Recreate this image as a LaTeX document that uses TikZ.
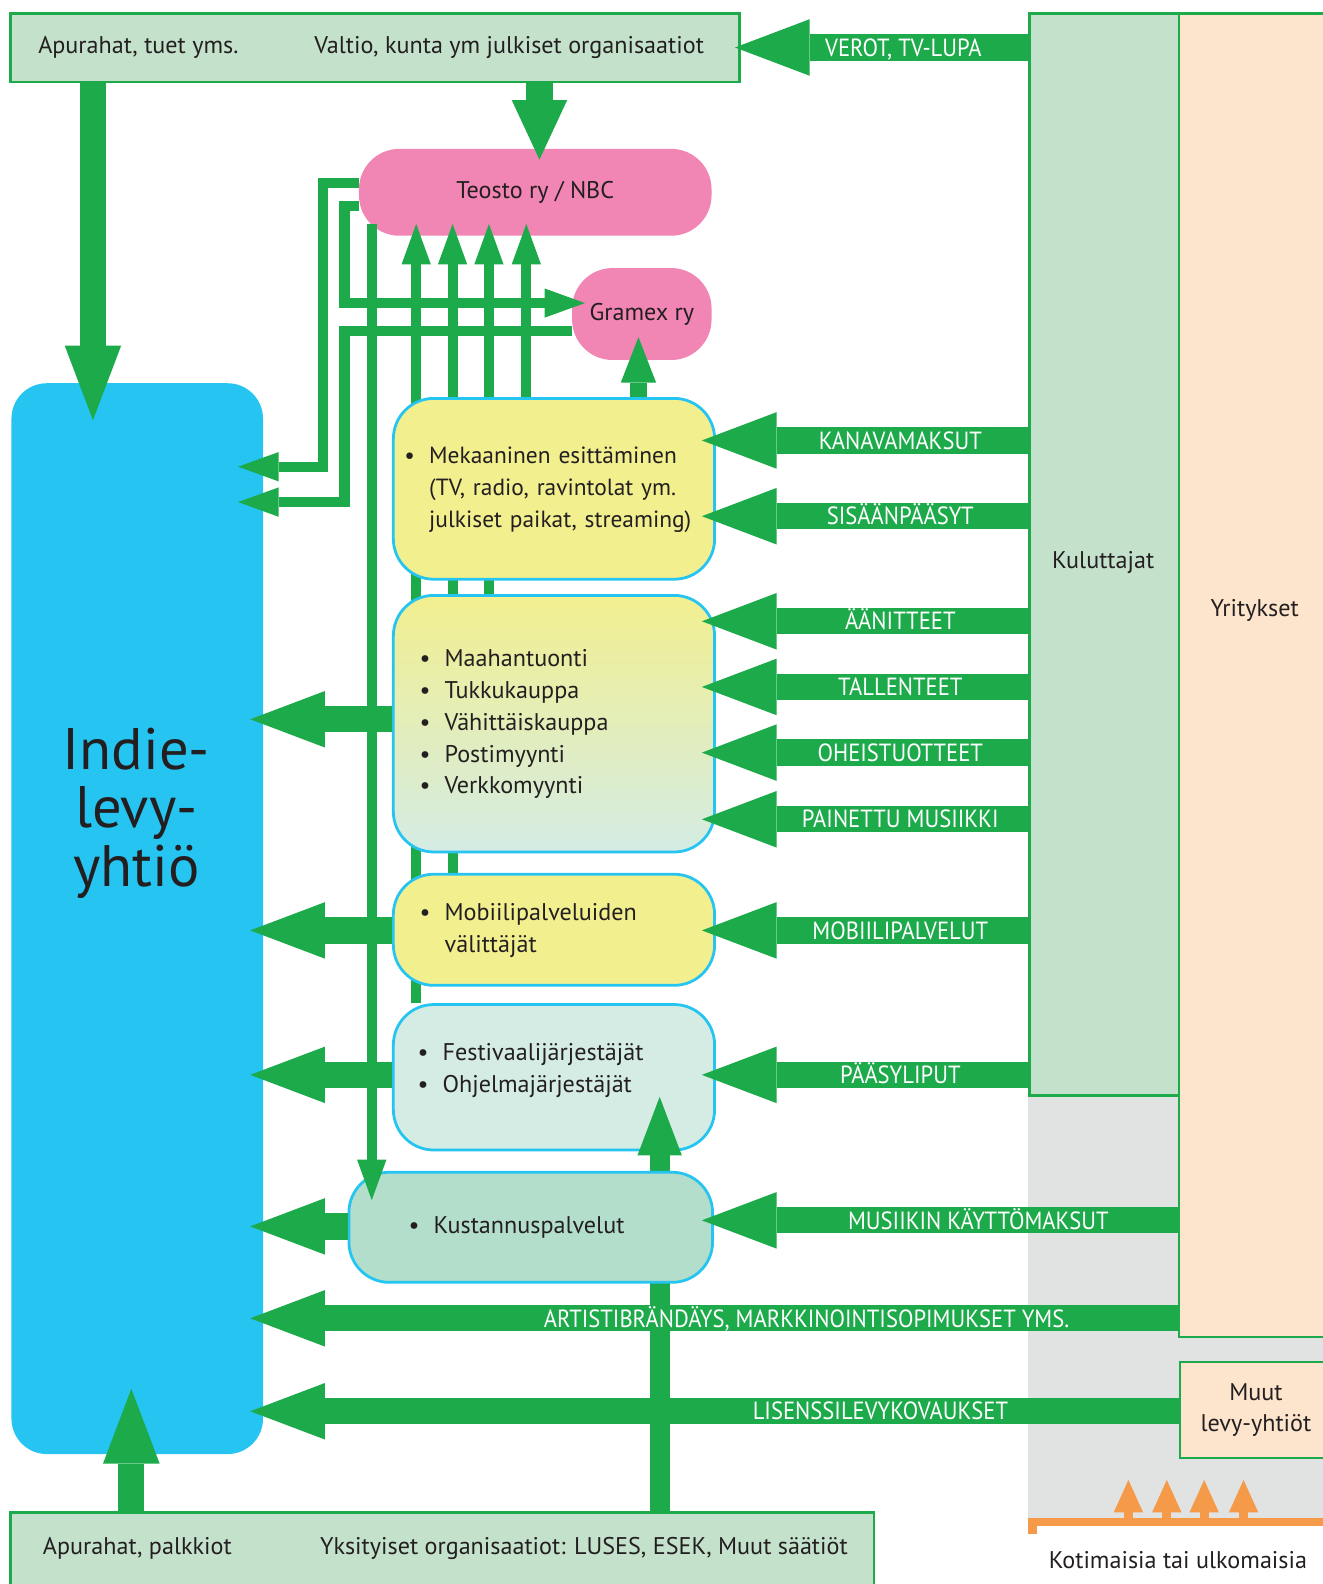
\documentclass[tikz,border=0pt]{standalone}
\usepackage{fontspec}
\setmainfont{PT Sans}
\newfontfamily\lblfont[FakeStretch=0.91]{PT Sans}
\usetikzlibrary{calc,positioning,arrows.meta}
\usepackage{xcolor}
\definecolor{mygreen}{RGB}{29,170,74}
\definecolor{mylightgreen}{RGB}{196,226,203}
\definecolor{mypeach}{RGB}{253,228,204}
\definecolor{mycyan}{RGB}{38,196,241}
\definecolor{mypink}{RGB}{241,133,180}
\definecolor{myyellow}{RGB}{242,239,143}
\definecolor{mymint}{RGB}{212,236,228}
\definecolor{mysea}{RGB}{178,222,203}
\definecolor{mygray}{RGB}{225,227,226}
\definecolor{myorange}{RGB}{245,154,72}
\definecolor{mytext}{RGB}{35,31,32}
\newcommand{\ux}{0.02cm}
\pgfdeclarelayer{back}
\pgfdeclarelayer{mid}
\pgfsetlayers{back,mid,main}
\tikzset{
  txt/.style={text=mytext, font=\fontsize{13.6}{18}\selectfont, inner sep=0pt},
  panel/.style={draw=mygreen, line width=0.05cm, fill=mylightgreen, anchor=north west, inner sep=0pt},
  pill/.style={fill=mypink, rounded corners=0.8cm, anchor=north west, txt},
  card/.style={draw=mycyan, line width=0.055cm, rounded corners=0.8cm, anchor=north west, align=left, txt},
  lbl/.style={text=white, font=\lblfont\fontsize{14}{14}\selectfont, text height=9.8pt, text depth=0pt, inner sep=0pt},
  bigarr/.style={draw=mygreen, line width=0.52cm, -{Triangle[length=1.48cm, width=1.12cm, line width=0pt]}},
  midarr/.style={draw=mygreen, line width=0.32cm, -{Triangle[length=0.9cm, width=0.7cm, line width=0pt]}},
  fatarr/.style={draw=mygreen, line width=0.4cm, -{Triangle[length=1.16cm, width=0.88cm, line width=0pt]}},
  thinarr/.style={draw=mygreen, line width=0.2cm, -{Triangle[length=0.8cm, width=0.58cm, line width=0pt]}},
  orarr/.style={draw=myorange, line width=0.18cm, -{Triangle[length=0.64cm, width=0.58cm, line width=0pt]}}
}

\begin{document}
\begin{tikzpicture}[x=0.02cm, y=-0.02cm]
  \useasboundingbox (0,0) rectangle (1309,1568);
  \begin{pgfonlayer}{back}
    % payers
    \fill[mygray] (1018,1083) rectangle (1320,1507);
    \node[panel, minimum width=722*\ux, minimum height=68*\ux] (valtio) at (9,12) {};
    \node[txt] (apuA) at (137,47) {Apurahat, tuet yms.};
    \node[txt] (valtiolbl) at (504,47) {Valtio, kunta ym julkiset organisaatiot};
    \node[panel, minimum width=148*\ux, minimum height=1071*\ux] (kul) at (1018,12) {};
    \node[panel, fill=mypeach, minimum width=160*\ux, minimum height=1310*\ux] (yrit) at (1166,12) {};
    \node[txt] (kullbl) at (1092,557) {Kuluttajat};
    \node[txt] (yritlbl) at (1242,604) {Yritykset};
    \node[panel, fill=mypeach, minimum width=150*\ux, minimum height=95*\ux, align=center, txt] (muut) at (1167,1347) {Muut\\levy-yhtiöt};
    \node[panel, minimum width=855*\ux, minimum height=100*\ux] (yksit) at (9,1496) {};
    \node[txt] (apuB) at (136,1533) {Apurahat, palkkiot};
    \node[txt] (yksitlbl) at (578,1533) {Yksityiset organisaatiot: LUSES, ESEK, Muut säätiöt};
    % origin
    \draw[myorange, line width=0.16cm] (1018,1507) -- (1320,1507);
    \fill[myorange] (1018,1503) rectangle (1027,1518);
    \draw[orarr] (1117,1505) -- (1117,1465);
    \draw[orarr] (1155,1505) -- (1155,1465);
    \draw[orarr] (1192,1505) -- (1192,1465);
    \draw[orarr] (1231,1505) -- (1231,1465);
    \node[txt] (kotilbl) at (1166,1544) {Kotimaisia tai ulkomaisia};
    % label
    \node[fill=mycyan, rounded corners=0.7cm, anchor=north west, minimum width=249*\ux, minimum height=1060*\ux] (indie) at (11,379) {};
    \node[text=mytext, font=\fontsize{33}{33}\selectfont, align=center] (indielbl) at (135,805) {Indie-\\levy-\\yhtiö};
    % collecting societies
    \node[pill, minimum width=349*\ux, minimum height=86*\ux] (teosto) at (355,147) {Teosto ry / NBC};
    \node[pill, minimum width=138*\ux, minimum height=91*\ux] (gramex) at (566,265) {Gramex ry};
  \end{pgfonlayer}

  % channels
  \node[card, fill=myyellow, minimum width=318*\ux, minimum height=179*\ux, text width=296*\ux, font=\fontsize{13.2}{18}\selectfont] (mek) at (388,393)
    {\begin{tabular}{@{}l@{\hspace{0.28cm}}l@{}}\textbullet & Mekaaninen esittäminen\\ & (TV, radio, ravintolat ym.\\ & julkiset paikat, streaming)\end{tabular}};
  \node[card, top color=myyellow, bottom color=mymint, minimum width=318*\ux, minimum height=254*\ux, text width=266*\ux] (sales) at (388,588)
    {\begin{tabular}{@{}l@{\hspace{0.28cm}}l@{}}\textbullet & Maahantuonti\\ \textbullet & Tukkukauppa\\ \textbullet & Vähittäiskauppa\\ \textbullet & Postimyynti\\ \textbullet & Verkkomyynti\end{tabular}};
  \node[card, fill=myyellow, minimum width=318*\ux, minimum height=110*\ux, text width=266*\ux] (mob) at (388,864)
    {\begin{tabular}{@{}l@{\hspace{0.28cm}}l@{}}\textbullet & Mobiilipalveluiden\\ & välittäjät\end{tabular}};
  \node[card, fill=mymint, minimum width=318*\ux, minimum height=144*\ux, text width=270*\ux] (fest) at (388,993)
    {\begin{tabular}{@{}l@{\hspace{0.28cm}}l@{}}\textbullet & Festivaalijärjestäjät\\ \textbullet & Ohjelmajärjestäjät\\[0.3cm]\end{tabular}};
  \draw[fatarr, shorten >=-1.08cm] (yksit.north -| 653,0) -- (fest.south -| 653,0);
  \node[card, fill=mysea, minimum width=360*\ux, minimum height=109*\ux, text width=242*\ux] (kust) at (344,1159)
    {\begin{tabular}{@{}l@{\hspace{0.28cm}}l@{}}\textbullet & Kustannuspalvelut\end{tabular}};

  % royalties
  \begin{pgfonlayer}{mid}
    \draw[thinarr, shorten >=-0.24cm] (mek.north -| 521,0) -- (teosto.south -| 521,0);
    \draw[thinarr, shorten >=-0.24cm] (sales.north -| 484,0) -- (teosto.south -| 484,0);
    \draw[thinarr, shorten >=-0.24cm] (mob.north -| 448,0) -- (teosto.south -| 448,0);
    \draw[thinarr, shorten >=-0.24cm] (fest.north -| 412,0) -- (teosto.south -| 412,0);
    \draw[thinarr, shorten >=-0.26cm] (teosto.west |- 0,204) -- (341,204) -- (341,300) -- (gramex.west |- 0,300);
    \draw[thinarr, shorten >=-0.5cm] (teosto.west |- 0,181) -- (320,181) -- (320,462) -- (indie.east |- 0,462);
    \draw[thinarr, shorten >=-0.5cm] (gramex.west |- 0,328) -- (341,328) -- (341,497) -- (indie.east |- 0,497);
  \end{pgfonlayer}
  \draw[thinarr, shorten <=-0.24cm, shorten >=-0.58cm] (teosto.south -| 368,0) -- (kust.north -| 368,0);
  \draw[midarr, shorten >=-0.46cm] (mek.north -| 632,0) -- (gramex.south -| 632,0);

  % funding
  \draw[bigarr, -{Triangle[length=1.18cm, width=1.1cm, line width=0pt]}, shorten >=-0.22cm] (valtio.south -| 534,0) -- (teosto.north -| 534,0);
  \draw[bigarr, shorten >=-0.74cm] (valtio.south -| 92,0) -- (indie.north -| 92,0);
  \draw[bigarr, shorten >=-1.3cm] (yksit.north -| 130,0) -- (indie.south -| 130,0);

  % money from consumers and companies
  \draw[bigarr, shorten >=-0.12cm] (kul.west |- 0,47) -- (valtio.east |- 0,47) node[lbl, pos=0.435] {VEROT, TV-LUPA};
  \draw[bigarr, shorten >=-0.28cm] (kul.west |- 0,436) -- (mek.east |- 0,436) node[lbl, pos=0.41] {KANAVAMAKSUT};
  \draw[bigarr, shorten >=-0.28cm] (kul.west |- 0,511) -- (mek.east |- 0,511) node[lbl, pos=0.41] {SISÄÄNPÄÄSYT};
  \draw[bigarr, shorten >=-0.28cm] (kul.west |- 0,615) -- (sales.east |- 0,615) node[lbl, pos=0.41] {ÄÄNITTEET};
  \draw[bigarr, shorten >=-0.28cm] (kul.west |- 0,680) -- (sales.east |- 0,680) node[lbl, pos=0.41] {TALLENTEET};
  \draw[bigarr, shorten >=-0.28cm] (kul.west |- 0,745) -- (sales.east |- 0,745) node[lbl, pos=0.41] {OHEISTUOTTEET};
  \draw[bigarr, shorten >=-0.28cm] (kul.west |- 0,811) -- (sales.east |- 0,811) node[lbl, pos=0.41] {PAINETTU MUSIIKKI};
  \draw[bigarr, shorten >=-0.28cm] (kul.west |- 0,921) -- (mob.east |- 0,921) node[lbl, pos=0.41] {MOBIILIPALVELUT};
  \draw[bigarr, shorten >=-0.28cm] (kul.west |- 0,1064) -- (fest.east |- 0,1064) node[lbl, pos=0.41] {PÄÄSYLIPUT};
  \draw[bigarr, shorten >=-0.24cm] (yrit.west |- 0,1208) -- (kust.east |- 0,1208) node[lbl, pos=0.43] {MUSIIKIN KÄYTTÖMAKSUT};
  \draw[bigarr, shorten >=-0.26cm] (yrit.west |- 0,1305) -- (indie.east |- 0,1305) node[lbl, pos=0.406] {ARTISTIBRÄNDÄYS, MARKKINOINTISOPIMUKSET YMS.};
  \draw[bigarr, shorten >=-0.26cm] (muut.west |- 0,1397) -- (indie.east |- 0,1397) node[lbl, pos=0.326] {LISENSSILEVYKOVAUKSET};

  % income of the label
  \draw[bigarr, shorten >=-0.26cm] (sales.west |- 0,712) -- (indie.east |- 0,712);
  \draw[bigarr, shorten >=-0.26cm] (mob.west |- 0,921) -- (indie.east |- 0,921);
  \draw[bigarr, shorten >=-0.26cm] (fest.west |- 0,1064) -- (indie.east |- 0,1064);
  \draw[bigarr, shorten >=-0.26cm] (kust.west |- 0,1214) -- (indie.east |- 0,1214);
\end{tikzpicture}
\end{document}
